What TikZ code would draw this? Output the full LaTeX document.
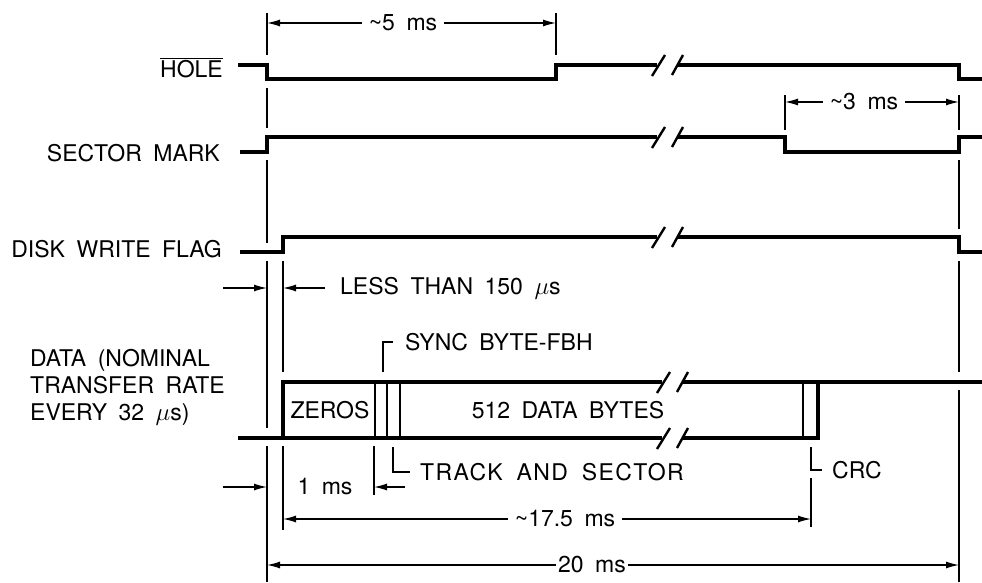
\documentclass[tikz,border=0pt]{standalone}
\usepackage{fontspec}
\setmainfont{TeX Gyre Heros}[WordSpace=1.8]
\usetikzlibrary{arrows.meta}
\tikzset{
  sig/.style={line width=3.4pt, line join=miter},
  guide/.style={line width=1.3pt},
  dim/.style={line width=1.3pt, -{Latex[length=13pt,width=7pt]}},
  lbl/.style={font=\fontsize{23}{27}\selectfont, inner sep=0pt},
  dimlbl/.style={lbl, inner xsep=7pt},
  brk/.style={line width=2.4pt},
}
% two slashes for a cut in a waveform
\newcommand{\breakat}[2]{
  \draw[brk] (#1-15,#2+11) -- (#1-2,#2-10);
  \draw[brk] (#1+5,#2+10) -- (#1+16,#2-10);
}
\begin{document}
\begin{tikzpicture}[x=1pt,y=-1pt]
\useasboundingbox (0,0) rectangle (982,582);

% signal names
\node[lbl, anchor=base east] (hole) at (223,77) {$\overline{\mbox{HOLE}}$};
\node[lbl, anchor=base east] (smark) at (220,161) {SECTOR MARK};
\node[lbl, anchor=base east] (wflag) at (222,257) {DISK WRITE FLAG};
\node[lbl, anchor=north west, align=left] (data) at (30,349)
  {DATA (NOMINAL\\TRANSFER RATE\\EVERY 32 $\mu$s)};

% hole
\draw[sig] (238,65) -- (267,65) -- (267,79) -- (556,79) -- (556,65) -- (657,65);
\draw[sig] (678,65) -- (959,65) -- (959,79) -- (982,79);
\breakat{667}{65}

% sector mark
\draw[sig] (240,152) -- (267,152) -- (267,137) -- (657,137);
\draw[sig] (678,137) -- (785,137) -- (785,152) -- (959,152) -- (959,137) -- (982,137);
\breakat{667}{137}

% disk write flag
\draw[sig] (240,252) -- (283,252) -- (283,237) -- (657,237);
\draw[sig] (678,237) -- (959,237) -- (959,252) -- (982,252);
\breakat{667}{237}

% data
\draw[sig] (238,438) -- (283,438) -- (283,382) -- (662,382);
\draw[sig] (683,382) -- (982,382);
\draw[sig] (283,438) -- (662,438);
\draw[sig] (683,438) -- (818,438) -- (818,382);
\breakat{672}{382}
\breakat{672}{438}
\foreach \x in {375,387,400,803}
  \draw[guide] (\x,382) -- (\x,438);
\node[lbl] (zeros) at (330,410) {ZEROS};
\node[lbl] (bytes) at (568,410) {512 DATA BYTES};

% guide lines
\draw[guide] (267,13) -- (267,55) (267,88) -- (267,128) (267,160) -- (267,243)
  (267,261) -- (267,428) (267,446) -- (267,582);
\draw[guide] (283,261) -- (283,372) (283,446) -- (283,530);
\draw[guide] (556,13) -- (556,55);
\draw[guide] (785,95) -- (785,130);
\draw[guide] (959,95) -- (959,130) (959,160) -- (959,229)
  (959,261) -- (959,372) (959,390) -- (959,582);
\draw[guide] (374,446) -- (374,495);
\draw[guide] (811,478) -- (811,527);

% byte pointers
\draw[guide] (383,372) -- (383,342) -- (393,342);
\node[lbl, anchor=west] (sync) at (405,342) {SYNC BYTE-FBH};
\draw[guide] (393,447) -- (393,472) -- (410,472);
\node[lbl, anchor=west] (trk) at (420,472) {\addfontfeatures{LetterSpace=6}TRACK AND SECTOR};
\draw[guide] (811,447) -- (811,470) -- (822,470);
\node[lbl, anchor=west] (crc) at (832,470) {CRC};

% timings
\coordinate (p5a) at (267,23);
\coordinate (p5b) at (556,23);
\node[dimlbl] (t5) at (403,23) {\textasciitilde5 ms};
\draw[dim] (t5) -- (p5a);
\draw[dim] (t5) -- (p5b);

\coordinate (p3a) at (785,102);
\coordinate (p3b) at (959,102);
\node[dimlbl] (t3) at (864,102) {\textasciitilde3 ms};
\draw[dim] (t3) -- (p3a);
\draw[dim] (t3) -- (p3b);

\coordinate (l1) at (223,288);
\coordinate (l2) at (267,288);
\coordinate (l3) at (325,288);
\coordinate (l4) at (283,288);
\draw[dim] (l1) -- (l2);
\draw[dim] (l3) -- (l4);
\node[lbl, anchor=west] (less) at (340,288) {LESS THAN 150 $\mu$s};

\coordinate (m1) at (223,487);
\coordinate (m2) at (267,487);
\coordinate (m3) at (405,487);
\coordinate (m4) at (374,487);
\draw[dim] (m1) -- (m2);
\draw[dim] (m3) -- (m4);
\node[lbl] (t1) at (325,487) {1 ms};

\coordinate (p17a) at (283,519);
\coordinate (p17b) at (811,519);
\node[dimlbl] (t17) at (565,519) {\textasciitilde17.5 ms};
\draw[dim] (t17) -- (p17a);
\draw[dim] (t17) -- (p17b);

\coordinate (p20a) at (267,565);
\coordinate (p20b) at (959,565);
\node[dimlbl, inner xsep=2pt] (t20) at (592,565) {20 ms};
\draw[dim] (t20) -- (p20a);
\draw[dim] (t20) -- (p20b);
\end{tikzpicture}
\end{document}
